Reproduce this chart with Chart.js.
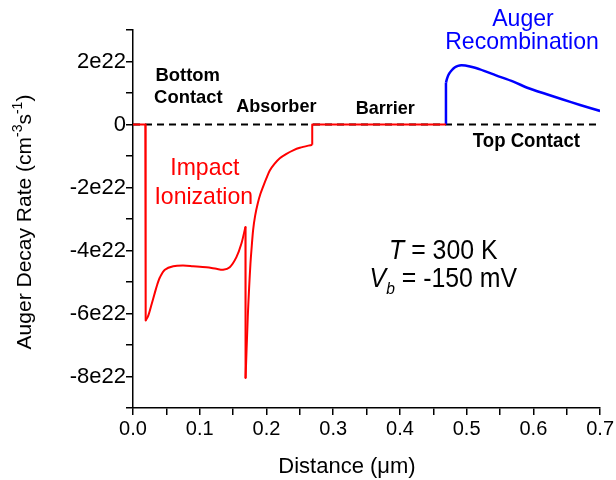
<!DOCTYPE html>
<html>
<head>
<meta charset="utf-8">
<script src="https://cdn.jsdelivr.net/npm/chart.js@4/dist/chart.umd.min.js"></script>
<style>
  html, body { margin: 0; padding: 0; background: #fff; }
  #wrap { width: 616px; height: 480px; position: relative; }
</style>
</head>
<body>
<div id="wrap"><canvas id="decayChart"></canvas></div>
<script>
// Impact ionization rate (negative) through contact / absorber / barrier
const impactX = [0, 0.0184, 0.019, 0.0229, 0.028, 0.0329, 0.0365, 0.0404, 0.0478, 0.0603, 0.075, 0.09,
    0.11, 0.125, 0.135, 0.145, 0.155, 0.1625, 0.1685, 0.1687, 0.172, 0.174, 0.176, 0.178, 0.180, 0.183,
    0.187, 0.191, 0.195, 0.200, 0.205, 0.212, 0.220, 0.230, 0.240, 0.250, 0.2686, 0.2686, 0.469];
const impactRate = [0, 0, -6.22e22, -6.07e22, -5.70e22, -5.33e22, -5.07e22, -4.85e22, -4.61e22, -4.50e22,
    -4.48e22, -4.50e22, -4.53e22, -4.58e22, -4.61e22, -4.53e22, -4.21e22, -3.78e22, -3.25e22, -8.05e22,
    -6.1e22, -5.2e22, -4.42e22, -3.85e22, -3.35e22, -2.9e22, -2.5e22, -2.2e22, -1.97e22, -1.7e22,
    -1.46e22, -1.25e22, -1.07e22, -0.93e22, -0.82e22, -0.74e22, -0.64e22, 0, 0];

// Auger recombination rate in the top contact
const augerX = [0.469, 0.469, 0.471, 0.474, 0.478, 0.482, 0.487, 0.492, 0.498, 0.505, 0.52, 0.544,
    0.57, 0.593, 0.62, 0.643, 0.67, 0.7];
const augerRate = [0, 1.33e22, 1.48e22, 1.62e22, 1.73e22, 1.81e22, 1.86e22, 1.88e22, 1.87e22, 1.84e22,
    1.75e22, 1.56e22, 1.36e22, 1.15e22, 0.96e22, 0.80e22, 0.62e22, 0.43e22];

// zero reference
const zeroX = [0, 0.7];
const zeroRate = [0, 0];

const xTickLabels = ['0.0', '0.1', '0.2', '0.3', '0.4', '0.5', '0.6', '0.7'];
const yTickLabels = { '-8': '-8e22', '-6': '-6e22', '-4': '-4e22', '-2': '-2e22', '0': '0', '2': '2e22' };

const FONT = '"Liberation Sans", Arial, sans-serif';

// region labels, placed in data coordinates
const regionLabels = [
    { text: 'Bottom', x: 0.082, y: 1.55e22, size: 19, weight: 'bold', color: '#000', sx: 0.97 },
    { text: 'Contact', x: 0.083, y: 0.85e22, size: 19, weight: 'bold', color: '#000', sx: 0.97 },
    { text: 'Absorber', x: 0.2148, y: 0.57e22, size: 19, weight: 'bold', color: '#000', sx: 0.95 },
    { text: 'Barrier', x: 0.378, y: 0.51e22, size: 19, weight: 'bold', color: '#000', sx: 0.95 },
    { text: 'Top Contact', x: 0.5895, y: -0.53e22, size: 20, weight: 'bold', color: '#000', sx: 0.93 },
    { text: 'Impact', x: 0.1076, y: -1.40e22, size: 24, weight: 'normal', color: '#ff0000', sx: 0.96 },
    { text: 'Ionization', x: 0.106, y: -2.30e22, size: 24, weight: 'normal', color: '#ff0000', sx: 0.96 },
    { text: 'Auger', x: 0.5844, y: 3.34e22, size: 24, weight: 'normal', color: '#0000ff', sx: 0.96 },
    { text: 'Recombination', x: 0.583, y: 2.60e22, size: 24, weight: 'normal', color: '#0000ff', sx: 0.96 }
];

// cut a trace into pieces: vertical jumps stay straight, the rest is smoothed
function pieces(xs, ys, ranges, base) {
    return ranges.map(([a, b, t]) => Object.assign({
        data: xs.slice(a, b + 1).map((x, i) => ({ x: x, y: ys[a + i] })),
        showLine: true,
        pointRadius: 0,
        borderJoinStyle: 'round',
        tension: t
    }, base));
}

// draws a row of text runs centred on (cx, cy), squeezed horizontally by sx
function drawRuns(ctx, runs, cx, cy, sx) {
    ctx.save();
    ctx.textBaseline = 'alphabetic';
    ctx.textAlign = 'left';
    let total = 0;
    runs.forEach(r => { ctx.font = r.font; r.w = ctx.measureText(r.text).width; total += r.w; });
    ctx.translate(cx, cy);
    ctx.scale(sx, 1);
    let x = -total / 2;
    runs.forEach(r => {
        ctx.font = r.font;
        ctx.fillStyle = r.color || '#000';
        ctx.fillText(r.text, x, r.dy || 0);
        x += r.w;
    });
    ctx.restore();
}

const textPlugin = {
    id: 'textPlugin',
    afterDraw(chart) {
        const ctx = chart.ctx;
        const xs = chart.scales.x, ys = chart.scales.y;

        regionLabels.forEach(l => {
            const px = xs.getPixelForValue(l.x);
            const py = ys.getPixelForValue(l.y);
            ctx.save();
            ctx.translate(px, py);
            ctx.scale(l.sx, 1);
            ctx.font = l.weight + ' ' + l.size + 'px ' + FONT;
            ctx.fillStyle = l.color;
            ctx.textAlign = 'center';
            ctx.textBaseline = 'middle';
            ctx.fillText(l.text, 0, 0);
            ctx.restore();
        });

        // conditions
        const cx = xs.getPixelForValue(0.465);
        drawRuns(ctx, [
            { text: 'T', font: 'italic 27px ' + FONT },
            { text: ' = 300 K', font: '27px ' + FONT }
        ], cx, ys.getPixelForValue(-4.26e22), 0.92);
        drawRuns(ctx, [
            { text: 'V', font: 'italic 27px ' + FONT },
            { text: 'b', font: 'italic 17px ' + FONT, dy: 7 },
            { text: ' = -150 mV', font: '27px ' + FONT }
        ], cx, ys.getPixelForValue(-5.15e22), 0.92);

        // axis titles
        drawRuns(ctx, [{ text: 'Distance (\u03bcm)', font: '22px ' + FONT }], 347, 473, 1);

        ctx.save();
        ctx.translate(31, (chart.chartArea.top + chart.chartArea.bottom) / 2 + 3);
        ctx.rotate(-Math.PI / 2);
        drawRuns(ctx, [
            { text: 'Auger Decay Rate (cm', font: '21px ' + FONT },
            { text: '-3', font: '14px ' + FONT, dy: -9 },
            { text: 's', font: '21px ' + FONT },
            { text: '-1', font: '14px ' + FONT, dy: -9 },
            { text: ')', font: '21px ' + FONT }
        ], 0, 0, 1);
        ctx.restore();
    }
};

const redPieces = pieces(impactX, impactRate,
    [[0, 2, 0], [2, 18, 0.3], [18, 19, 0], [19, 36, 0.3], [36, 38, 0]],
    { borderColor: '#ff0000', borderWidth: 2 });
const bluePieces = pieces(augerX, augerRate,
    [[0, 1, 0], [1, augerX.length - 1, 0.3]],
    { borderColor: '#0000ff', borderWidth: 2.5 });

const ctx = document.getElementById('decayChart').getContext('2d');
new Chart(ctx, {
    type: 'scatter',
    data: {
        datasets: redPieces.concat(bluePieces, [{
            label: 'zero',
            data: zeroX.map((x, i) => ({ x: x, y: zeroRate[i] })),
            showLine: true,
            borderColor: '#000',
            borderWidth: 2,
            borderDash: [7, 5],
            pointRadius: 0
        }])
    },
    options: {
        responsive: true,
        maintainAspectRatio: false,
        animation: false,
        layout: { padding: { top: 30, right: 15, left: 0, bottom: 0 } },
        plugins: {
            legend: { display: false },
            tooltip: { enabled: false }
        },
        scales: {
            x: {
                type: 'linear',
                min: 0,
                max: 0.7,
                afterFit: s => { s.height = 72; },
                border: { color: '#000', width: 1.5 },
                grid: { drawOnChartArea: false, drawTicks: true, tickLength: 7, color: '#000', lineWidth: 1.5 },
                ticks: {
                    stepSize: 0.05,
                    autoSkip: false,
                    maxRotation: 0,
                    padding: 2,
                    color: '#000',
                    font: { family: FONT, size: 20 },
                    callback: (v, i) => (i % 2 === 0 ? xTickLabels[i / 2] : '')
                }
            },
            y: {
                min: -9e22,
                max: 3e22,
                afterFit: s => { s.width = 133; },
                border: { color: '#000', width: 1.5 },
                grid: { drawOnChartArea: false, drawTicks: true, tickLength: 7, color: '#000', lineWidth: 1.5 },
                ticks: {
                    stepSize: 1e22,
                    autoSkip: false,
                    padding: 0,
                    color: '#000',
                    font: { family: FONT, size: 22 },
                    callback: v => yTickLabels[String(Math.round(v / 1e22))] || ''
                }
            }
        }
    },
    plugins: [textPlugin]
});
</script>
</body>
</html>
